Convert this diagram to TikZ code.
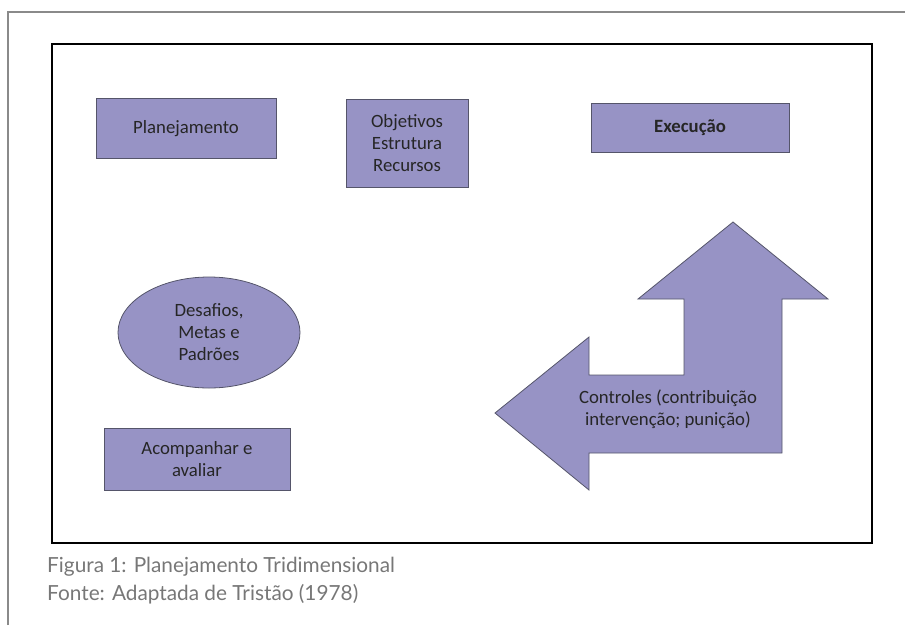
\documentclass[tikz,border=0pt]{standalone}
\usepackage{fontspec}
\setmainfont{Carlito}
\newfontfamily\captionfont{Lato}
\usetikzlibrary{shapes.geometric}
\definecolor{boxfill}{HTML}{9793C5}
\definecolor{boxline}{HTML}{55556A}
\definecolor{framegray}{HTML}{8A8A8A}
\definecolor{captiongray}{HTML}{777777}

\begin{document}
\begin{tikzpicture}[x=1pt,y=-1pt]

        \useasboundingbox (0,0) rectangle (905,625);
        \draw[framegray,line width=2pt] (8,625) -- (8,12) -- (905,12);
        \draw[black,line width=2pt] (52,44) rectangle (872,543);

        \draw[boxline,fill=boxfill,line width=0.8pt]
          (733,222) -- (828,299) -- (782,299) -- (782,453) -- (589,453)
          -- (589,490) -- (495,413) -- (589,337) -- (589,375) -- (684,375)
          -- (684,299) -- (638,299) -- cycle;

        \begin{scope}[every node/.style={draw=boxline,fill=boxfill,line width=0.8pt,
            align=center,inner sep=0pt,text=black!85,
            font=\fontsize{18.75}{22}\selectfont}]
          \node[minimum width=180,minimum height=60] (plan) at (186,128.5) {Planejamento};
          \node[minimum width=122,minimum height=88] (obj)  at (407,143) {Objetivos\\Estrutura\\Recursos};
          \node[minimum width=198,minimum height=49,font=\fontsize{18.75}{22}\selectfont\bfseries] (exec) at (690,127.5) {Execução};
          \node[ellipse,minimum width=182,minimum height=111] (meta) at (209,332.5) {Desafios,\\Metas e\\Padrões};
          \node[minimum width=186,minimum height=62] (acomp) at (197,459) {Acompanhar e\\avaliar};
        \end{scope}

        \node[align=center,text=black!85,font=\fontsize{18.75}{22}\selectfont] (ctrl) at (668,409)
          {Controles (contribuição\\intervenção; punição)};

        \begin{scope}[every node/.style={anchor=base west,inner sep=0pt,text=captiongray,
            font=\captionfont\fontsize{20.8}{24}\selectfont}]
          \node (fig)   at (47,572) {Figura 1: Planejamento Tridimensional};
          \node (fonte) at (47,600) {Fonte: Adaptada de Tristão (1978)};
        \end{scope}

      \end{tikzpicture}
\end{document}
